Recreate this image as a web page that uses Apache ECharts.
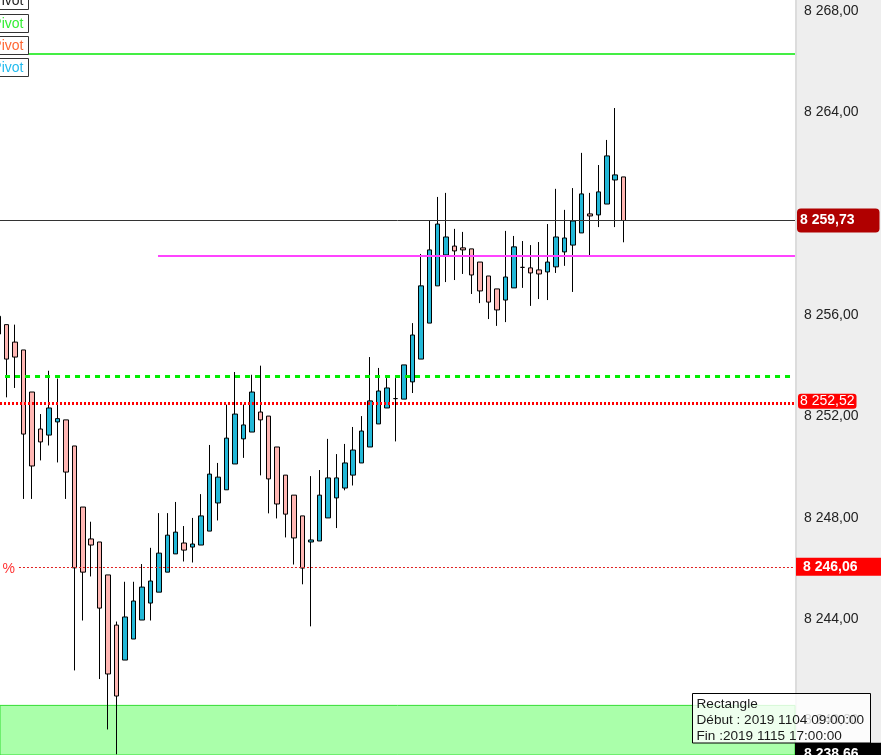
<!DOCTYPE html>
<html><head><meta charset="utf-8">
<script src="https://cdn.jsdelivr.net/npm/echarts@6/dist/echarts.min.js"></script>
<style>html,body{margin:0;padding:0;background:#fff;} #c{width:881px;height:755px;}</style>
</head><body><div id="c"></div>
<script>
// ---- data ----
const opens = [8255.25, 8255.62, 8254.93, 8254.62, 8252.96, 8251.50, 8251.26, 8251.78, 8251.86, 8250.83, 8248.42, 8247.16, 8247.04, 8245.74, 8243.76, 8242.38, 8243.21, 8243.96, 8244.63, 8245.06, 8245.85, 8246.57, 8247.00, 8246.84, 8246.92, 8247.47, 8248.58, 8249.10, 8250.12, 8251.11, 8251.38, 8252.17, 8252.01, 8250.79, 8249.68, 8248.89, 8248.07, 8247.04, 8247.08, 8247.99, 8248.78, 8249.17, 8249.68, 8250.16, 8250.79, 8251.70, 8252.33, 8252.70, 8252.68, 8253.36, 8254.26, 8255.68, 8257.15, 8258.37, 8258.72, 8258.65, 8258.61, 8258.09, 8257.54, 8257.03, 8256.59, 8257.07, 8257.88, 8257.86, 8257.78, 8257.70, 8257.90, 8258.49, 8258.76, 8259.24, 8259.99, 8259.95, 8260.38, 8261.33, 8261.45];
const closes = [8255.95, 8254.26, 8254.34, 8251.30, 8250.04, 8250.99, 8252.33, 8251.91, 8249.80, 8246.02, 8245.85, 8246.92, 8244.43, 8241.83, 8240.96, 8244.08, 8244.71, 8245.26, 8245.50, 8246.60, 8247.31, 8247.43, 8246.72, 8246.96, 8248.07, 8249.72, 8249.60, 8251.14, 8252.09, 8251.66, 8252.96, 8251.86, 8249.53, 8248.54, 8248.14, 8247.20, 8246.01, 8247.12, 8248.89, 8249.57, 8249.57, 8250.16, 8250.67, 8251.42, 8252.61, 8253.00, 8253.12, 8252.70, 8254.03, 8255.21, 8257.15, 8258.57, 8259.59, 8259.08, 8258.53, 8258.57, 8257.58, 8256.95, 8256.51, 8256.20, 8257.50, 8258.69, 8257.88, 8257.66, 8257.62, 8258.09, 8259.08, 8259.04, 8259.71, 8260.78, 8259.91, 8260.86, 8262.28, 8261.53, 8259.73];
const lows = [8255.25, 8252.75, 8253.12, 8248.74, 8248.74, 8250.26, 8250.85, 8250.18, 8248.74, 8241.97, 8243.94, 8245.68, 8241.63, 8239.64, 8238.66, 8242.38, 8243.21, 8243.96, 8243.94, 8245.06, 8245.85, 8246.57, 8246.27, 8246.23, 8246.92, 8247.47, 8247.89, 8249.10, 8250.12, 8250.36, 8251.38, 8249.67, 8248.17, 8247.97, 8247.22, 8246.15, 8245.37, 8243.71, 8247.08, 8247.99, 8247.59, 8249.08, 8249.27, 8250.16, 8250.79, 8251.70, 8252.33, 8251.01, 8252.68, 8252.92, 8254.26, 8255.68, 8257.15, 8257.30, 8257.38, 8257.62, 8256.83, 8256.47, 8255.84, 8255.57, 8255.72, 8257.07, 8257.07, 8256.36, 8256.63, 8256.59, 8257.66, 8257.94, 8256.91, 8259.24, 8258.29, 8259.47, 8260.38, 8259.47, 8258.87];
const highs = [8255.97, 8255.62, 8255.62, 8254.62, 8252.96, 8252.09, 8253.80, 8253.49, 8251.86, 8250.83, 8248.42, 8247.84, 8247.04, 8245.74, 8243.90, 8245.47, 8245.47, 8246.17, 8246.81, 8248.18, 8248.18, 8248.62, 8247.67, 8247.99, 8248.93, 8250.87, 8250.16, 8252.46, 8253.75, 8252.46, 8253.64, 8254.00, 8252.01, 8250.79, 8249.68, 8248.89, 8248.07, 8249.64, 8249.88, 8251.11, 8250.51, 8250.91, 8251.58, 8252.01, 8254.34, 8253.91, 8253.51, 8253.51, 8254.03, 8255.68, 8258.41, 8259.71, 8260.66, 8260.82, 8259.40, 8259.28, 8258.61, 8258.09, 8257.54, 8257.03, 8259.32, 8259.12, 8258.92, 8258.76, 8258.88, 8259.59, 8260.98, 8260.15, 8261.01, 8262.40, 8260.82, 8261.92, 8262.91, 8264.17, 8261.45];

const yTicks = [8240, 8244, 8248, 8252, 8256, 8264, 8268];
const yMin = 8238.632, yMax = 8268.434;
const lastClose = 8259.73;
const greenLevel = 8266.33;
const magentaLevel = 8258.33;
const dashedPivot = 8253.58;
const redPivot = 8252.52;
const pctLevel = 8246.06;
const rectTop = 8240.59;
const rectLow = 8238.66;
const pivotLabels = ['Pivot', 'Pivot', 'Pivot', 'Pivot'];
const infoLines = ['Rectangle', 'Début : 2019 1104 09:00:00', 'Fin :2019 1115 17:00:00'];

// ---- chart ----
const FONT = "'Liberation Sans', Arial, sans-serif";
const xMin = 0.207, xMax = 94.27;
const magStart = 18.9, dashStart = 0.8, pctStart = 2.45;

function fmt(v) {
  const s = Number(v).toFixed(2);
  const parts = s.split('.');
  return parts[0].replace(/\B(?=(\d{3})+(?!\d))/g, ' ') + ',' + parts[1];
}

const candles = opens.map((o, i) => [i, o, closes[i], lows[i], highs[i]]);

const pivotColors = ['#222222', '#33ee33', '#ff6633', '#22bbee'];
const pivotTops = [-8.5, 14.5, 36.5, 58.5];
const graphics = [
  {type: 'rect', z: -10, shape: {x: 795, y: 0, width: 86, height: 755}, style: {fill: '#eeeeee'}},
  {type: 'rect', z: -9, shape: {x: 795, y: 0, width: 2, height: 755}, style: {fill: '#dcdcdc'}}
];
pivotLabels.forEach((t, i) => {
  graphics.push({type: 'rect', z: 100, shape: {x: -9.5, y: pivotTops[i], width: 38, height: 18},
    style: {fill: '#ffffff', stroke: '#333333', lineWidth: 1}});
  graphics.push({type: 'text', z: 101, style: {text: t, x: -7.7, y: pivotTops[i] + 9.5, fill: pivotColors[i],
    fontSize: 14, fontFamily: FONT, verticalAlign: 'middle', align: 'left'}});
});
graphics.push({type: 'text', z: 101, style: {text: '%', x: 2.5, y: 569, fill: '#ff3333', fontSize: 14, fontFamily: FONT, verticalAlign: 'middle'}});
graphics.push({type: 'rect', z: 100, shape: {x: 692.5, y: 693.5, width: 178, height: 49.5},
  style: {fill: 'rgba(255,255,255,0.8)', stroke: '#000000', lineWidth: 1}});
infoLines.forEach((t, i) => {
  graphics.push({type: 'text', z: 101, style: {text: t, x: 696.5, y: 704 + i * 16, fill: '#1a1a1a',
    fontSize: 13.6, fontFamily: FONT, verticalAlign: 'middle', align: 'left'}});
});

const chart = echarts.init(document.getElementById('c'), null, {renderer: 'canvas'});
chart.setOption({
  animation: false,
  textStyle: {fontFamily: FONT},
  grid: {left: 0, right: 86, top: 0, bottom: 0, containLabel: false},
  xAxis: {type: 'value', min: xMin, max: xMax, show: false},
  yAxis: {
    type: 'value', position: 'right', min: yMin, max: yMax,
    axisLine: {show: false}, axisTick: {show: false}, splitLine: {show: false},
    axisLabel: {margin: 9, color: '#222', fontSize: 14, fontFamily: FONT, formatter: fmt, customValues: yTicks,
      showMinLabel: true, showMaxLabel: true}
  },
  graphic: graphics,
  series: [{
    type: 'candlestick',
    data: candles,
    encode: {x: 0, y: [1, 2, 3, 4]},
    barWidth: 5,
    clip: false,
    itemStyle: {color: '#22b8d8', color0: '#ffb6b3', borderColor: '#000', borderColor0: '#000', borderWidth: 1},
    markArea: {
      silent: true,
      itemStyle: {color: '#aaffaa', borderColor: '#33dd33', borderWidth: 1},
      data: [[{yAxis: rectTop}, {yAxis: yMin}]]
    },
    markLine: {
      silent: true, symbol: ['none', 'none'], animation: false,
      data: [
        {yAxis: greenLevel, lineStyle: {color: '#44ee44', width: 2, type: 'solid'}, label: {show: false}},
        [{coord: [magStart, magentaLevel], lineStyle: {color: '#ff44ff', width: 2, type: 'solid'}, label: {show: false}}, {coord: [xMax, magentaLevel]}],
        [{coord: [dashStart, dashedPivot], lineStyle: {color: '#00ee00', width: 3, type: [5, 5]}, label: {show: false}}, {coord: [xMax, dashedPivot]}],
        {yAxis: redPivot, lineStyle: {color: '#ff0000', width: 3, type: [2, 2]},
          label: {show: true, position: 'end', distance: 3, formatter: fmt(redPivot), color: '#fff', fontSize: 14,
            backgroundColor: '#ff0000', borderRadius: 3, padding: [1, 2, 0, 2], offset: [0, -2]}},
        [{coord: [pctStart, pctLevel], lineStyle: {color: '#e02020', width: 1, type: [2, 2]},
          label: {show: true, position: 'end', distance: 1, formatter: fmt(pctLevel), color: '#fff', fontSize: 14, fontWeight: 'bold',
            backgroundColor: '#ff0000', padding: [2, 25, 2, 7]}}, {coord: [xMax, pctLevel]}],
        {yAxis: lastClose, lineStyle: {color: '#333', width: 1, type: 'solid'},
          label: {show: true, position: 'end', distance: 2, formatter: fmt(lastClose), color: '#fff', fontSize: 14, fontWeight: 'bold',
            lineHeight: 16, backgroundColor: '#b00000', borderRadius: 4, padding: [4, 25, 4, 3]}},
        {yAxis: rectLow, lineStyle: {color: 'rgba(0,0,0,0)', width: 0},
          label: {show: true, position: 'end', distance: 0, formatter: fmt(rectLow), color: '#fff', fontSize: 14, fontWeight: 'bold',
            lineHeight: 17, backgroundColor: '#000000', padding: [3, 25, 3, 9]}}
      ]
    }
  }]
});
</script>
</body></html>
